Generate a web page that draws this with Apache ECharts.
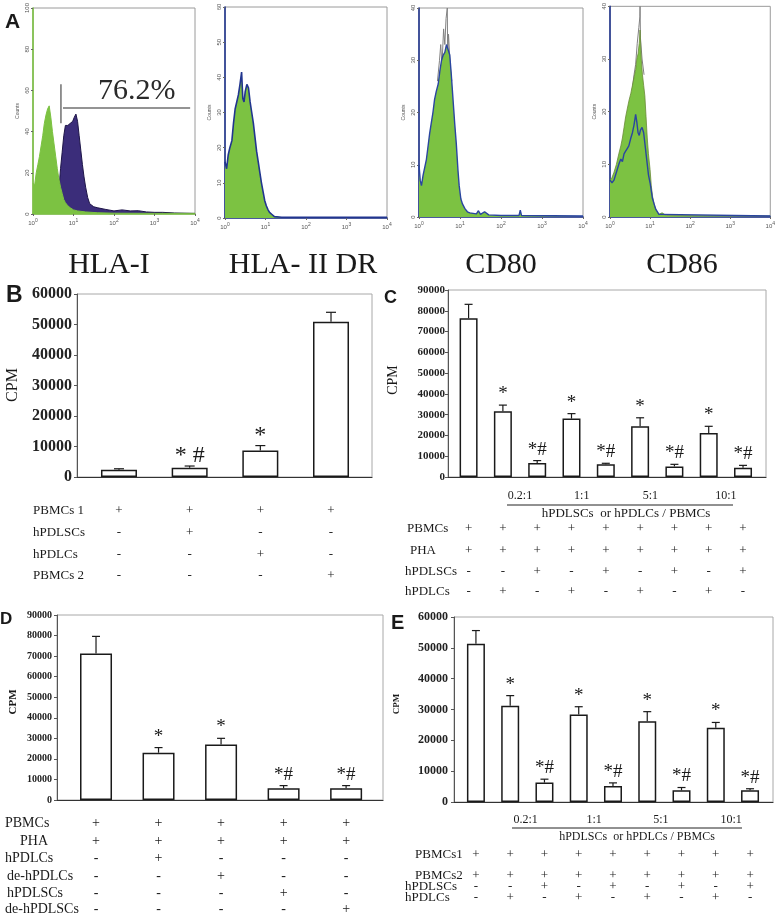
<!DOCTYPE html>
<html><head><meta charset="utf-8">
<script src="https://cdn.jsdelivr.net/npm/echarts@6/dist/echarts.min.js"></script>
<style>html,body{margin:0;padding:0;background:#fff}#c{width:778px;height:914px}</style>
</head><body><div id="c"></div>
<script>
// ---------- Panel A: flow cytometry histograms (x in decades of 10^n, y = counts) ----------
const hlaIIsotype = [[0,15],[0.04,14],[0.08,20],[0.12,24],[0.16,28],[0.2,33],[0.24,38],[0.28,44],[0.32,48],[0.36,51],[0.4,52.5],[0.44,47],[0.48,40],[0.52,34],[0.56,28],[0.6,22],[0.64,17],[0.68,13],[0.72,10],[0.76,7],[0.8,5.5],[0.86,4],[0.92,3],[1.0,2],[1.1,1.5],[1.3,1],[1.6,0.6],[2.0,0.4],[3.0,0.3],[4.0,0.3]];
const hlaIStained = [[0.5,0],[0.58,3],[0.64,12],[0.68,22],[0.72,30],[0.76,38],[0.8,43],[0.86,43],[0.92,44],[0.98,45],[1.02,47],[1.06,48.5],[1.1,45],[1.14,38],[1.18,31],[1.22,24],[1.26,18],[1.3,13],[1.35,8],[1.4,5],[1.5,3.5],[1.6,3],[1.8,2.2],[2.0,1.5],[2.2,2],[2.4,1.5],[2.6,1.6],[2.8,1],[3.0,0.8],[3.2,0.8],[3.5,0.5],[4,0.3]];
const hlaIIDR = [[0,16],[0.04,14],[0.08,18],[0.12,20],[0.17,22],[0.21,27],[0.25,31],[0.29,33],[0.33,35],[0.37,38],[0.41,41.5],[0.44,34],[0.47,33],[0.5,36],[0.54,38],[0.58,37],[0.62,33],[0.66,30],[0.7,27],[0.74,23],[0.78,19],[0.82,16],[0.86,13],[0.9,10],[0.94,7.5],[0.98,5],[1.02,3.5],[1.06,2.4],[1.1,1.6],[1.16,1],[1.22,0.4],[1.4,0.2],[4,0.2]];
const cd80 = [[0,10],[0.03,7],[0.06,6],[0.1,8],[0.14,9.5],[0.18,11],[0.22,13.5],[0.26,16],[0.3,18],[0.34,20],[0.38,22.5],[0.42,24],[0.47,25.5],[0.51,28],[0.55,30],[0.59,31],[0.63,31.5],[0.67,33],[0.71,32],[0.75,31],[0.79,27],[0.83,22.5],[0.87,18],[0.91,14],[0.95,9],[0.98,6],[1.02,3.5],[1.06,2.5],[1.12,1.6],[1.18,1],[1.24,0.8],[1.4,0.6],[1.45,1.2],[1.5,0.5],[1.6,1],[1.7,0.4],[2.0,0.3],[2.44,0.3],[2.47,1.3],[2.5,0.3],[4,0.2]];
const cd80Gray = [[0.45,26],[0.5,30],[0.53,33],[0.56,29],[0.6,36],[0.63,33],[0.66,38],[0.69,40],[0.7,30],[0.72,35],[0.76,29],[0.8,26]];
const cd86Green = [[0,7],[0.05,7.5],[0.1,8.5],[0.16,10],[0.22,12],[0.27,13.5],[0.31,15],[0.35,17],[0.39,19],[0.43,20.5],[0.47,22],[0.52,23.5],[0.56,25],[0.6,26.5],[0.64,28],[0.67,30],[0.7,31],[0.73,33],[0.75,35.5],[0.78,30],[0.81,27],[0.84,25],[0.87,23],[0.9,19],[0.93,15],[0.96,12],[1.0,9],[1.03,6],[1.06,4],[1.1,2.5],[1.14,1.5],[1.18,1],[1.22,0.5],[1.3,0.8],[1.4,0.3],[4,0.2]];
const cd86Blue = [[0,7],[0.05,6.5],[0.1,7],[0.16,8.5],[0.22,10],[0.27,11],[0.31,10.5],[0.35,12],[0.39,12.5],[0.43,13],[0.47,13.5],[0.52,15],[0.56,16],[0.6,17.5],[0.64,19.5],[0.67,18],[0.7,16],[0.73,15.5],[0.76,16.5],[0.8,17],[0.84,16],[0.87,14],[0.9,12],[0.93,10],[0.96,8],[1.0,6.5],[1.03,5],[1.06,3.5],[1.1,2.5],[1.14,1.5],[1.18,1],[1.22,0.5],[1.3,0.5],[4,0.2]];
const cd86Gray = [[0.55,24],[0.6,27],[0.64,29],[0.68,33],[0.72,36],[0.745,38],[0.75,40],[0.755,40],[0.76,34],[0.8,30],[0.85,27]];
const gateVertical = [[0.69,63],[0.69,44]];
const gateHorizontal = [[0.74,51.5],[3.88,51.5]];
const gateLabel = '76.2%';
const gateLabelAt = [2.56, 59.7];
const markerNames = ['HLA-I', 'HLA- II DR', 'CD80', 'CD86'];
const histYMax = [100, 60, 40, 40];
const histYStep = [20, 10, 10, 10];
const decadeTicks = [0, 1, 2, 3, 4];

// ---------- Panel B ----------
const bValues = [2400, 3000, 8650, 50900];
const bErrTop = [2700, 3600, 10300, 54000];
const bMarks = ['', '* #', '*', ''];
const bRowLabels = ['PBMCs 1', 'hPDLSCs', 'hPDLCs', 'PBMCs 2'];
const bRows = [['+','+','+','+'], ['-','+','-','-'], ['-','-','+','-'], ['-','-','-','+']];

// ---------- Panel C ----------
const cValues = [76400, 31700, 6750, 28100, 6100, 24400, 5100, 21200, 4500];
const cErrTop = [83100, 34600, 7900, 30500, 6600, 28500, 6100, 24400, 5600];
const cMarks = ['', '*', '*#', '*', '*#', '*', '*#', '*', '*#'];
const cRatios = ['0.2:1', '1:1', '5:1', '10:1'];
const cRatioAt = [1.5, 3.3, 5.3, 7.5];
const cRowLabels = ['PBMCs', 'PHA', 'hPDLSCs', 'hPDLCs'];
const cRows = [
  ['+','+','+','+','+','+','+','+','+'],
  ['+','+','+','+','+','+','+','+','+'],
  ['-','-','+','-','+','-','+','-','+'],
  ['-','+','-','+','-','+','-','+','-']];

// ---------- Panel D ----------
const dValues = [71300, 23000, 27000, 5700, 5700];
const dErrTop = [79600, 25500, 30000, 7000, 7000];
const dMarks = ['', '*', '*', '*#', '*#'];
const dRowLabels = ['PBMCs', 'PHA', 'hPDLCs', 'de-hPDLCs', 'hPDLSCs', 'de-hPDLSCs'];
const dRows = [
  ['+','+','+','+','+'],
  ['+','+','+','+','+'],
  ['-','+','-','-','-'],
  ['-','-','+','-','-'],
  ['-','-','-','+','-'],
  ['-','-','-','-','+']];

// ---------- Panel E ----------
const eValues = [51300, 31200, 6300, 28400, 5200, 26200, 3800, 24100, 3800];
const eErrTop = [55600, 34500, 7400, 30900, 6200, 29300, 4700, 25800, 4300];
const eMarks = ['', '*', '*#', '*', '*#', '*', '*#', '*', '*#'];
const eRatios = ['0.2:1', '1:1', '5:1', '10:1'];
const eRatioAt = [1.45, 3.45, 5.4, 7.45];
const eRowLabels = ['PBMCs1', 'PBMCs2', 'hPDLSCs', 'hPDLCs'];
const eRows = [
  ['+','+','+','+','+','+','+','+','+'],
  ['+','+','+','+','+','+','+','+','+'],
  ['-','-','+','-','+','-','+','-','+'],
  ['-','+','-','+','-','+','-','+','-']];

const ratioCaption = 'hPDLSCs  or hPDLCs / PBMCs';

// ================= layout & styling =================
const SERIF = '"Liberation Serif", "Times New Roman", serif';
const SANS = '"Liberation Sans", Arial, sans-serif';
const GREEN = '#7cc242', PURPLE = '#3b2d7a', BLUE = '#21358f';

const histFrames = [
  {left:33, top:6, width:162, height:208, axisColor:GREEN},
  {left:225, top:7, width:162, height:211, axisColor:BLUE},
  {left:419, top:8, width:164, height:209, axisColor:BLUE},
  {left:610, top:5, width:163, height:212, axisColor:BLUE}
];
const barFrames = [
  {left:77, top:294, width:295, height:183, ymax:60000, xmin:-0.594, xmax:3.58, barW:36, yFont:16, yMargin:5, markFont:24, markOff:10, cap:5},
  {left:448, top:290, width:318, height:187, ymax:90000, xmin:-0.6, xmax:8.67, barW:18, yFont:11, yMargin:3, markFont:19, markOff:11, cap:4},
  {left:57, top:615, width:326, height:185, ymax:90000, xmin:-0.624, xmax:4.59, barW:32, yFont:10, yMargin:5, markFont:19, markOff:11, cap:4},
  {left:454, top:617, width:319, height:185, ymax:60000, xmin:-0.64, xmax:8.67, barW:18, yFont:12, yMargin:6, markFont:19, markOff:11, cap:4}
];
const barData = [
  {vals:bValues, errs:bErrTop, marks:bMarks},
  {vals:cValues, errs:cErrTop, marks:cMarks},
  {vals:dValues, errs:dErrTop, marks:dMarks},
  {vals:eValues, errs:eErrTop, marks:eMarks}
];

const grids = [], xAxes = [], yAxes = [], series = [];

histFrames.forEach((f, k) => {
  grids.push({left:f.left, top:f.top, width:f.width, height:f.height, show:true, borderColor:'#9a9a9a', borderWidth:1});
  xAxes.push({gridIndex:k, type:'value', min:decadeTicks[0], max:decadeTicks[decadeTicks.length-1], interval:1,
    axisLine:{onZero:false, lineStyle:{color:f.axisColor, width:1.6}}, axisTick:{length:2, lineStyle:{color:'#666'}}, splitLine:{show:false},
    axisLabel:{margin:4, fontSize:6, color:'#555', fontFamily:SANS, formatter: v => '10{s|' + v + '}',
      rich:{s:{fontSize:5, color:'#555', padding:[0,0,5,0]}}}});
  yAxes.push({gridIndex:k, type:'value', min:0, max:histYMax[k], interval:histYStep[k],
    axisLine:{show:true, onZero:false, lineStyle:{color:f.axisColor, width:1.6}}, axisTick:{show:true, length:2, lineStyle:{color:'#666'}}, splitLine:{show:false},
    axisLabel:{rotate:90, fontSize:6, margin:3, color:'#555', fontFamily:SANS},
    name:'Counts', nameLocation:'middle', nameGap:13, nameTextStyle:{fontSize:5, color:'#555', fontFamily:SANS}});
});

function hist(k, data, line, area, lw, z) {
  const s = {type:'line', xAxisIndex:k, yAxisIndex:k, data:data, showSymbol:false, symbol:'none', silent:true, z:z||2,
    lineStyle:{color:line, width:lw}};
  if (area) s.areaStyle = {color:area, opacity:1};
  return s;
}
series.push(hist(0, hlaIStained, '#1e1548', PURPLE, 1, 2));
series.push(hist(0, hlaIIsotype, GREEN, GREEN, 1, 3));
series.push(hist(0, gateVertical, '#707070', null, 1.5, 4));
series.push(hist(0, gateHorizontal, '#707070', null, 1.5, 4));
series.push(hist(1, hlaIIDR, BLUE, GREEN, 1.6, 3));
series.push(hist(2, cd80Gray, '#808080', null, 1, 2));
series.push(hist(2, cd80, '#2a45a0', GREEN, 1.4, 3));
series.push(hist(3, cd86Gray, '#808080', null, 1, 2));
series.push(hist(3, cd86Green, '#6b8a3a', GREEN, 0.8, 3));
series.push(hist(3, cd86Blue, '#2a45a0', null, 1.4, 4));

barFrames.forEach((f, k) => {
  const gi = 4 + k;
  grids.push({left:f.left, top:f.top, width:f.width, height:f.height, show:true, borderColor:'#a8a8a8', borderWidth:1});
  xAxes.push({gridIndex:gi, type:'value', min:f.xmin, max:f.xmax,
    axisLine:{onZero:false, lineStyle:{color:'#333', width:1.2}}, axisTick:{show:false}, axisLabel:{show:false}, splitLine:{show:false}});
  yAxes.push({gridIndex:gi, type:'value', min:0, max:f.ymax, interval:10000,
    axisLine:{show:true, onZero:false, lineStyle:{color:'#555', width:1}}, axisTick:{show:true, length:3, lineStyle:{color:'#555'}}, splitLine:{show:false},
    axisLabel:{fontFamily:SERIF, fontWeight:'bold', fontSize:f.yFont, color:'#222', margin:f.yMargin, formatter: v => String(v)}});
  const d = barData[k];
  series.push({type:'bar', xAxisIndex:gi, yAxisIndex:gi, silent:true, barWidth:f.barW, z:3,
    data:d.vals.map((v, i) => [i, v]),
    itemStyle:{color:'#fff', borderColor:'#1a1a1a', borderWidth:1.5}});
  series.push({type:'custom', xAxisIndex:gi, yAxisIndex:gi, silent:true, z:4,
    data:d.vals.map((v, i) => [i, v, d.errs[i]]),
    renderItem:(params, api) => {
      const i = api.value(0);
      const p0 = api.coord([i, api.value(1)]);
      const p1 = api.coord([i, api.value(2)]);
      const m = d.marks[params.dataIndex];
      const ch = [
        {type:'line', shape:{x1:p0[0], y1:p0[1], x2:p1[0], y2:p1[1]}, style:{stroke:'#1a1a1a', lineWidth:1.2}},
        {type:'line', shape:{x1:p1[0]-f.cap, y1:p1[1], x2:p1[0]+f.cap, y2:p1[1]}, style:{stroke:'#1a1a1a', lineWidth:1.2}}
      ];
      if (m) ch.push({type:'text', style:{text:m, x:p1[0], y:p1[1]-f.markOff, fill:'#1a1a1a',
        font:'normal ' + f.markFont + 'px ' + SERIF, align:'center', verticalAlign:'middle', textAlign:'center', textVerticalAlign:'middle'}});
      return {type:'group', children:ch};
    }});
});

const chart = echarts.init(document.getElementById('c'), null, {renderer:'canvas'});
chart.setOption({animation:false, grid:grids, xAxis:xAxes, yAxis:yAxes, series:series});

// ================= texts (placed via the axes' own scales where tied to data) =================
const els = [];
function txt(x, y, s, size, opt) {
  opt = opt || {};
  const a = opt.align || 'left';
  els.push({type:'text', x:x, y:y, rotation:opt.rot || 0, silent:true, z:10,
    style:{text:s, x:0, y:0, fill:opt.color || '#1a1a1a', font:(opt.weight || 'normal') + ' ' + size + 'px ' + (opt.family || SERIF),
      align:a, verticalAlign:'middle', textAlign:a, textVerticalAlign:'middle'}});
}
function hline(x1, x2, y, color, w) {
  els.push({type:'line', silent:true, z:10, shape:{x1:x1, y1:y, x2:x2, y2:y}, style:{stroke:color, lineWidth:w}});
}
const colX = (k, i) => chart.convertToPixel({xAxisIndex:4 + k}, i);

// panel letters
txt(5, 22.5, 'A', 21, {weight:'bold', family:SANS});
txt(6, 296, 'B', 23, {weight:'bold', family:SANS});
txt(384, 298, 'C', 18, {weight:'bold', family:SANS});
txt(0, 619, 'D', 17, {weight:'bold', family:SANS});
txt(391, 623, 'E', 20, {weight:'bold', family:SANS});

// panel A marker names & gate text
const nameX = [109, 303, 501, 682];
markerNames.forEach((n, k) => txt(nameX[k], 265, n, 30, {align:'center'}));
const gp = chart.convertToPixel({gridIndex:0}, gateLabelAt);
txt(gp[0], gp[1], gateLabel, 30, {align:'center', color:'#2a2a2a'});

// CPM axis titles
txt(12.5, 385, 'CPM', 16, {align:'center', rot:Math.PI / 2});
txt(393, 380, 'CPM', 14, {align:'center', rot:Math.PI / 2});
txt(13, 702, 'CPM', 11, {align:'center', rot:Math.PI / 2, weight:'bold'});
txt(397, 704, 'CPM', 9, {align:'center', rot:Math.PI / 2, weight:'bold'});

// tables
function table(k, labels, rows, labelX, rowY, size) {
  labels.forEach((l, r) => {
    txt(labelX[r], rowY[r], l, size);
    rows[r].forEach((s, i) => txt(colX(k, i), rowY[r], s, size, {align:'center'}));
  });
}
table(0, bRowLabels, bRows, [33, 33, 33, 33], [511, 533, 555, 576], 13);
table(1, cRowLabels, cRows, [407, 410, 405, 405], [529, 551, 572, 592], 13);
table(2, dRowLabels, dRows, [5, 20, 5, 7, 7, 5], [823, 841, 858, 876, 893, 909], 14);
table(3, eRowLabels, eRows, [415, 415, 405, 405], [855, 876, 887, 898], 13);

// ratio labels
cRatios.forEach((r, j) => txt(colX(1, cRatioAt[j]), 496, r, 12, {align:'center'}));
hline(507, 733, 505, '#222', 1);
txt(626, 514, ratioCaption, 13, {align:'center'});
eRatios.forEach((r, j) => txt(colX(3, eRatioAt[j]), 820, r, 12, {align:'center'}));
hline(512, 742, 828, '#222', 1);
txt(637, 837, ratioCaption, 12, {align:'center'});

chart.setOption({graphic:{elements:els}});
</script>
</body></html>
